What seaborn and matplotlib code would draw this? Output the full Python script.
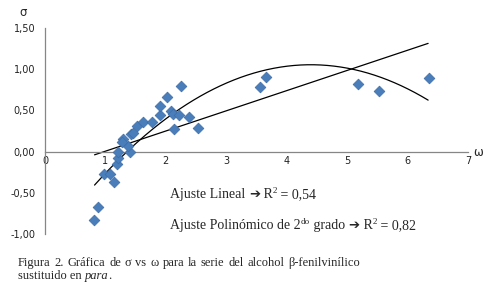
import matplotlib
matplotlib.use("Agg")
import matplotlib.pyplot as plt
import seaborn as sns
import numpy as np
import pandas as pd

# values
omega = [0.81, 0.88, 0.98, 1.08, 1.15, 1.19, 1.21, 1.20, 1.41, 1.37, 1.29, 1.27,
         1.42, 1.45, 1.52, 1.63, 1.77, 1.90, 1.90, 2.02, 2.09, 2.12, 2.21, 2.25,
         2.39, 2.53, 2.14, 3.55, 3.66, 5.18, 5.52, 6.35]
sigma = [-0.83, -0.67, -0.27, -0.27, -0.37, -0.15, -0.08, 0.00, -0.01, 0.07, 0.15, 0.12,
         0.21, 0.23, 0.31, 0.36, 0.36, 0.45, 0.55, 0.66, 0.49, 0.46, 0.44, 0.80,
         0.42, 0.29, 0.27, 0.78, 0.91, 0.82, 0.73, 0.89]

lin_coef = [0.245, -0.24]            # slope, intercept
poly_coef = [-0.114, 1.003, -1.152]  # a, b, c
fit_range = [0.82, 6.34]

x_ticks = [0, 1, 2, 3, 4, 5, 6, 7]
y_ticks = [-1.0, -0.5, 0.0, 0.5, 1.0, 1.5]

caption_1 = 'Figura 2. Gráfica de σ vs ω para la serie del alcohol β-fenilvinílico'

df = pd.DataFrame({'omega': omega, 'sigma': sigma})

sns.set_style("white")
W, H = 493, 292
fig = plt.figure(figsize=(W / 100, H / 100), dpi=100)
ax = fig.add_axes([45 / W, 1 - 234 / H, (468 - 45) / W, (234 - 28) / H])

sns.scatterplot(data=df, x='omega', y='sigma', ax=ax, marker='D', s=30,
                color='#4a7ebb', edgecolor='#3d6ca6', linewidth=0.5, zorder=3)

xf = np.linspace(fit_range[0], fit_range[1], 200)
ax.plot(xf, np.polyval(lin_coef, xf), color='black', lw=0.9, zorder=2)
ax.plot(xf, np.polyval(poly_coef, xf), color='black', lw=0.9, zorder=2)

ax.set_xlim(0, 7)
ax.set_ylim(-1, 1.5)
ax.set_xticks(x_ticks)
ax.set_yticks(y_ticks)
ax.set_xticklabels([str(t) for t in x_ticks])
ax.set_yticklabels([f"{t:.2f}".replace('.', ',') for t in y_ticks])
ax.set_xlabel('')
ax.set_ylabel('')

axis_col = '#868686'
for s in ['top', 'right']:
    ax.spines[s].set_visible(False)
ax.spines['bottom'].set_position(('data', 0))
for s in ['left', 'bottom']:
    ax.spines[s].set_color(axis_col)
    ax.spines[s].set_linewidth(0.9)
ax.tick_params(axis='x', direction='inout', length=5, width=0.8, color=axis_col,
               labelsize=7, pad=1, labelcolor='#222222')
ax.tick_params(axis='y', direction='out', length=4, width=0.8, color=axis_col,
               labelsize=7, pad=3, labelcolor='#222222')
ax.patch.set_alpha(0)

fig.text(23 / W, 1 - 12 / H, 'σ', fontsize=8.5, ha='center', va='center')
fig.text(478 / W, 1 - 153 / H, 'ω', fontsize=8.5, ha='center', va='center')

fig.canvas.draw()
renderer = fig.canvas.get_renderer()
serif = ['Liberation Serif', 'DejaVu Serif']
arrow = ['DejaVu Sans']


def put_runs(x, y, runs):
    for txt, size, rise, fam, style in runs:
        t = fig.text(x / W, 1 - (y - rise) / H, txt, fontsize=size, family=fam,
                     style=style, va='baseline', ha='left')
        x += t.get_window_extent(renderer).width


big = 10
sup = 6.5
put_runs(170, 198, [
    ('Ajuste Lineal ', big, 0, serif, 'normal'),
    ('➔', 9.5, 0, arrow, 'normal'),
    (' R', big, 0, serif, 'normal'),
    ('2', sup, 5, serif, 'normal'),
    (' = 0,54', big, 0, serif, 'normal'),
])
put_runs(170, 229, [
    ('Ajuste Polinómico de 2', big, 0, serif, 'normal'),
    ('do', sup, 5, serif, 'normal'),
    (' grado ', big, 0, serif, 'normal'),
    ('➔', 9.5, 0, arrow, 'normal'),
    (' R', big, 0, serif, 'normal'),
    ('2', sup, 5, serif, 'normal'),
    (' = 0,82', big, 0, serif, 'normal'),
])

# justified first caption line (words spread between x=18 and x=360)
cap = 9
words = caption_1.split(' ')
texts = [fig.text(0, 0, w, fontsize=cap, family=serif, va='baseline') for w in words]
widths = [t.get_window_extent(renderer).width for t in texts]
gap = (360 - 18 - sum(widths)) / (len(words) - 1)
x = 18
for t, w in zip(texts, widths):
    t.set_position((x / W, 1 - 266 / H))
    x += w + gap

put_runs(18, 279, [
    ('sustituido en ', cap, 0, serif, 'normal'),
    ('para', cap, 0, serif, 'italic'),
    ('.', cap, 0, serif, 'normal'),
])

fig.savefig('out.png', dpi=100)
